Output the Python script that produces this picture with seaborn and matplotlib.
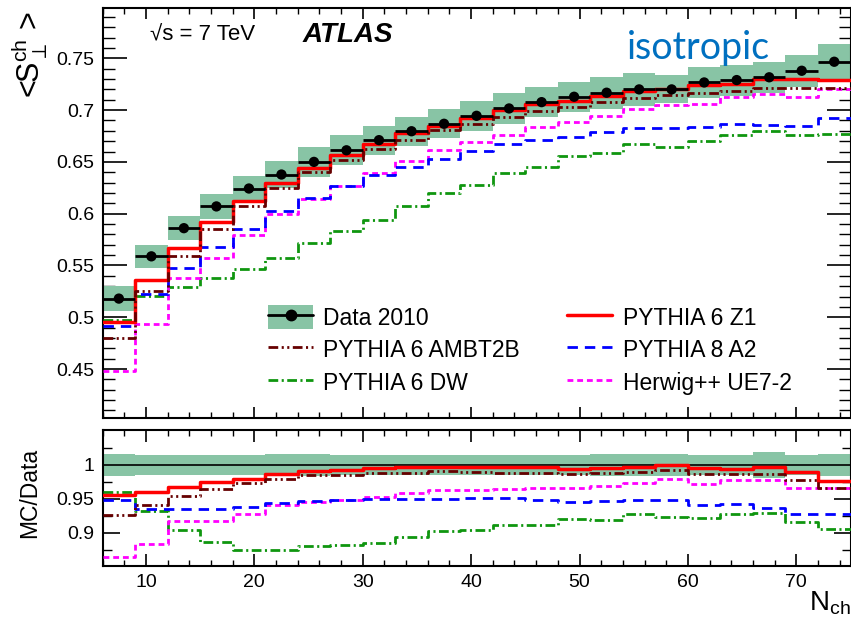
import numpy as np
import pandas as pd
import matplotlib
matplotlib.use("Agg")
import matplotlib.pyplot as plt
import seaborn as sns
from matplotlib.lines import Line2D
from matplotlib.patches import Patch
from matplotlib.ticker import FixedLocator, MultipleLocator, FuncFormatter

# ---------------- data ----------------
bin_edges = [6, 9, 12, 15, 18, 21, 24, 27, 30, 33, 36, 39, 42, 45, 48, 51, 54, 57, 60, 63, 66, 69, 72, 75]
bin_centers = [7.5, 10.5, 13.5, 16.5, 19.5, 22.5, 25.5, 28.5, 31.5, 34.5, 37.5, 40.5, 43.5, 46.5,
               49.5, 52.5, 55.5, 58.5, 61.5, 64.5, 67.5, 70.5, 73.5]

data_2010 = [0.518, 0.5588, 0.586, 0.607, 0.6243, 0.6378, 0.650, 0.6612, 0.671, 0.6796, 0.6868, 0.6945,
             0.7016, 0.7077, 0.7129, 0.7168, 0.720, 0.720, 0.7267, 0.729, 0.7317, 0.738, 0.7467]
data_err = [0.0121, 0.0113, 0.0116, 0.012, 0.0125, 0.013, 0.0143, 0.0143, 0.014, 0.014, 0.0142, 0.0142,
            0.0148, 0.0148, 0.0147, 0.0153, 0.0156, 0.0135, 0.0148, 0.015, 0.015, 0.0153, 0.017]
ratio_err = [0.016, 0.015, 0.015, 0.015, 0.015, 0.016, 0.016, 0.015, 0.015, 0.015, 0.015, 0.0145,
             0.0145, 0.0145, 0.0145, 0.0165, 0.0165, 0.0165, 0.015, 0.015, 0.0185, 0.0155, 0.0165]

pythia6_z1 = [0.4952, 0.5364, 0.5672, 0.5918, 0.6118, 0.6295, 0.6442, 0.6566, 0.6676, 0.6779, 0.6851,
              0.6928, 0.6998, 0.7059, 0.7091, 0.7139, 0.7182, 0.7204, 0.7238, 0.7251, 0.7299, 0.7303, 0.7295]
pythia6_ambt2b = [0.4797, 0.5256, 0.5590, 0.5854, 0.6074, 0.6250, 0.6406, 0.6517, 0.6627, 0.6712, 0.6806,
                  0.6869, 0.6929, 0.6989, 0.7033, 0.7079, 0.7121, 0.7147, 0.7170, 0.7188, 0.7215, 0.7218, 0.7213]
pythia8_a2 = [0.4911, 0.5228, 0.5477, 0.5679, 0.5856, 0.6021, 0.6152, 0.6268, 0.6371, 0.6453, 0.6528,
              0.6608, 0.6669, 0.6716, 0.6737, 0.6785, 0.6826, 0.6826, 0.6835, 0.6867, 0.6856, 0.6849, 0.6922]
herwig_ue72 = [0.4478, 0.4938, 0.5379, 0.5572, 0.5794, 0.5999, 0.6146, 0.6268, 0.6395, 0.6511, 0.6614,
               0.6688, 0.6763, 0.6836, 0.6887, 0.6944, 0.7013, 0.7047, 0.7062, 0.7127, 0.7154, 0.7124, 0.7208]
pythia6_dw = [0.4970, 0.5206, 0.5295, 0.5378, 0.5463, 0.5573, 0.5718, 0.5830, 0.5936, 0.6073, 0.6198,
              0.6275, 0.6392, 0.6454, 0.6557, 0.6587, 0.6674, 0.6646, 0.6702, 0.6758, 0.6803, 0.6759, 0.6765]

# ---------------- style ----------------
sns.set_style("ticks")
plt.rcParams["font.family"] = ["Liberation Sans", "DejaVu Sans"]
plt.rcParams["mathtext.fontset"] = "custom"
plt.rcParams["mathtext.rm"] = "Liberation Sans"
plt.rcParams["mathtext.it"] = "Liberation Sans"
plt.rcParams["lines.scale_dashes"] = False
for k in ["text.color", "axes.labelcolor", "xtick.color", "ytick.color", "axes.edgecolor"]:
    plt.rcParams[k] = "black"

BAND = "#88c4a5"
C_Z1, C_AMBT, C_DW, C_A2, C_HW = "#ff0000", "#660000", "#0f960f", "#0000ff", "#ff00ff"
LS_Z1 = "-"
LS_AMBT = (0, (7, 2.5, 1.5, 2.5, 1.5, 2.5))
LS_DW = (0, (7, 2.5, 1.5, 2.5))
LS_A2 = (0, (7.5, 5))
LS_HW = (0, (4.2, 2.8))

W, H = 851, 621
fig = plt.figure(figsize=(W / 100, H / 100), dpi=100)
L, R = 102.6, 850.5
ax = fig.add_axes([L / W, 1 - 418 / H, (R - L) / W, 410 / H])
axr = fig.add_axes([L / W, 1 - 566 / H, (R - L) / W, 136 / H])

widths = [bin_edges[i + 1] - bin_edges[i] for i in range(len(bin_centers))]


def step(a, vals, color, lw, ls, z):
    df = pd.DataFrame({"x": bin_edges, "y": list(vals) + [vals[-1]]})
    sns.lineplot(data=df, x="x", y="y", ax=a, color=color, lw=lw, drawstyle="steps-post",
                 estimator=None, sort=False, zorder=z)
    a.lines[-1].set_linestyle(ls)


# ---------------- top panel ----------------
d = np.array(data_2010)
de = np.array(data_err)
ax.bar(bin_centers, 2 * de, bottom=d - de, width=widths, color=BAND, edgecolor="none", zorder=1)

series = [
    (pythia6_dw, C_DW, 2.0, LS_DW, 3),
    (herwig_ue72, C_HW, 2.0, LS_HW, 3),
    (pythia8_a2, C_A2, 2.0, LS_A2, 3),
    (pythia6_ambt2b, C_AMBT, 2.0, LS_AMBT, 4),
    (pythia6_z1, C_Z1, 2.5, LS_Z1, 3.5),
]
for vals, c, lw, ls, z in series:
    step(ax, vals, c, lw, ls, z)

ax.errorbar(bin_centers, data_2010, xerr=[w / 2 for w in widths], fmt="none", ecolor="black",
            elinewidth=2.0, capsize=0, zorder=6)
sns.scatterplot(x=bin_centers, y=data_2010, ax=ax, color="black", s=55, edgecolor="none", zorder=7)

ax.set_xlim(6, 75)
ax.set_ylim(0.4027, 0.7986)
ax.set_xlabel("")
ax.set_ylabel("")
ax.xaxis.set_major_locator(MultipleLocator(10))
ax.xaxis.set_minor_locator(MultipleLocator(2))
ax.yaxis.set_major_locator(MultipleLocator(0.05))
ax.yaxis.set_minor_locator(MultipleLocator(0.01))
ax.yaxis.set_major_formatter(FuncFormatter(lambda v, p: "%g" % round(v, 3)))
ax.tick_params(axis="x", which="major", direction="in", length=8, width=1.2, top=True, bottom=True,
               labelbottom=False)
ax.tick_params(axis="x", which="minor", direction="in", length=4, width=1.0, top=True, bottom=True)
ax.tick_params(axis="y", which="major", direction="in", length=17, width=1.2, left=True, right=True,
               labelsize=14, pad=6)
ax.tick_params(axis="y", which="minor", direction="in", length=8.5, width=1.0, left=True, right=True)

# ---------------- ratio panel ----------------
re_ = np.array(ratio_err)
axr.bar(bin_centers, 2 * re_, bottom=1 - re_, width=widths, color=BAND, edgecolor="none", zorder=1)
axr.axhline(1.0, color="black", lw=1.2, zorder=2)
for vals, c, lw, ls, z in series:
    step(axr, list(np.array(vals) / d), c, lw, ls, z)

axr.set_xlim(6, 75)
axr.set_ylim(0.8508, 1.0517)
axr.set_xlabel("")
axr.set_ylabel("")
axr.xaxis.set_major_locator(MultipleLocator(10))
axr.xaxis.set_minor_locator(MultipleLocator(2))
axr.yaxis.set_major_locator(FixedLocator([0.9, 0.95, 1.0]))
axr.yaxis.set_minor_locator(FixedLocator([0.875, 0.925, 0.975, 1.025]))
axr.yaxis.set_major_formatter(FuncFormatter(lambda v, p: "%g" % round(v, 3)))
axr.tick_params(axis="x", which="major", direction="in", length=8.5, width=1.2, top=True, bottom=True,
                labelsize=14, pad=6)
axr.tick_params(axis="x", which="minor", direction="in", length=4.3, width=1.0, top=True, bottom=True)
axr.tick_params(axis="y", which="major", direction="in", length=12, width=1.2, left=True, right=True,
                labelsize=14, pad=6)
axr.tick_params(axis="y", which="minor", direction="in", length=6.5, width=1.0, left=True, right=True)

for a in (ax, axr):
    for s in a.spines.values():
        s.set_linewidth(1.5)
        s.set_color("black")
        s.set_visible(True)

# ---------------- texts ----------------
fig.text(50 / W, 1 - 12 / H, r"<S$_{\perp}^{\rm ch}$ >", rotation=90, ha="right", va="top", fontsize=22)
fig.text(30 / W, 1 - 493 / H, "MC/Data", rotation=90, ha="center", va="center", fontsize=16.5)
fig.text(851 / W, 1 - 603 / H, r"N$_{\rm ch}$", ha="right", va="center", fontsize=20)
fig.text(150 / W, 1 - 35 / H, "\u221as = 7 TeV", ha="left", va="center", fontsize=16)
fig.text(303 / W, 1 - 35 / H, "ATLAS", ha="left", va="center", fontsize=20, fontweight="bold",
         fontstyle="italic")
fig.text(627 / W, 1 - 59 / H, "isotropic", ha="left", va="baseline", fontsize=27, color="#0070c0",
         family=["Lato", "DejaVu Sans"])

# ---------------- legend ----------------
handles = [
    (Patch(facecolor=BAND, edgecolor="none"), Line2D([], [], color="black", lw=2.0, marker="o", ms=7.5)),
    Line2D([], [], color=C_AMBT, lw=2.0, linestyle=LS_AMBT),
    Line2D([], [], color=C_DW, lw=2.0, linestyle=LS_DW),
    Line2D([], [], color=C_Z1, lw=2.5, linestyle=LS_Z1),
    Line2D([], [], color=C_A2, lw=2.0, linestyle=LS_A2),
    Line2D([], [], color=C_HW, lw=2.0, linestyle=LS_HW),
]
labels = ["Data 2010", "PYTHIA 6 AMBT2B", "PYTHIA 6 DW", "PYTHIA 6 Z1", "PYTHIA 8 A2", "Herwig++ UE7-2"]
fig.legend(handles, labels, ncol=2, frameon=False, fontsize=16.5, loc="upper left",
           bbox_to_anchor=(268 / W, 1 - 305 / H), bbox_transform=fig.transFigure,
           handlelength=1.97, handleheight=1.22, handletextpad=0.45, columnspacing=2.05,
           labelspacing=0.35, borderpad=0, borderaxespad=0)

fig.savefig("out.png", dpi=100)
